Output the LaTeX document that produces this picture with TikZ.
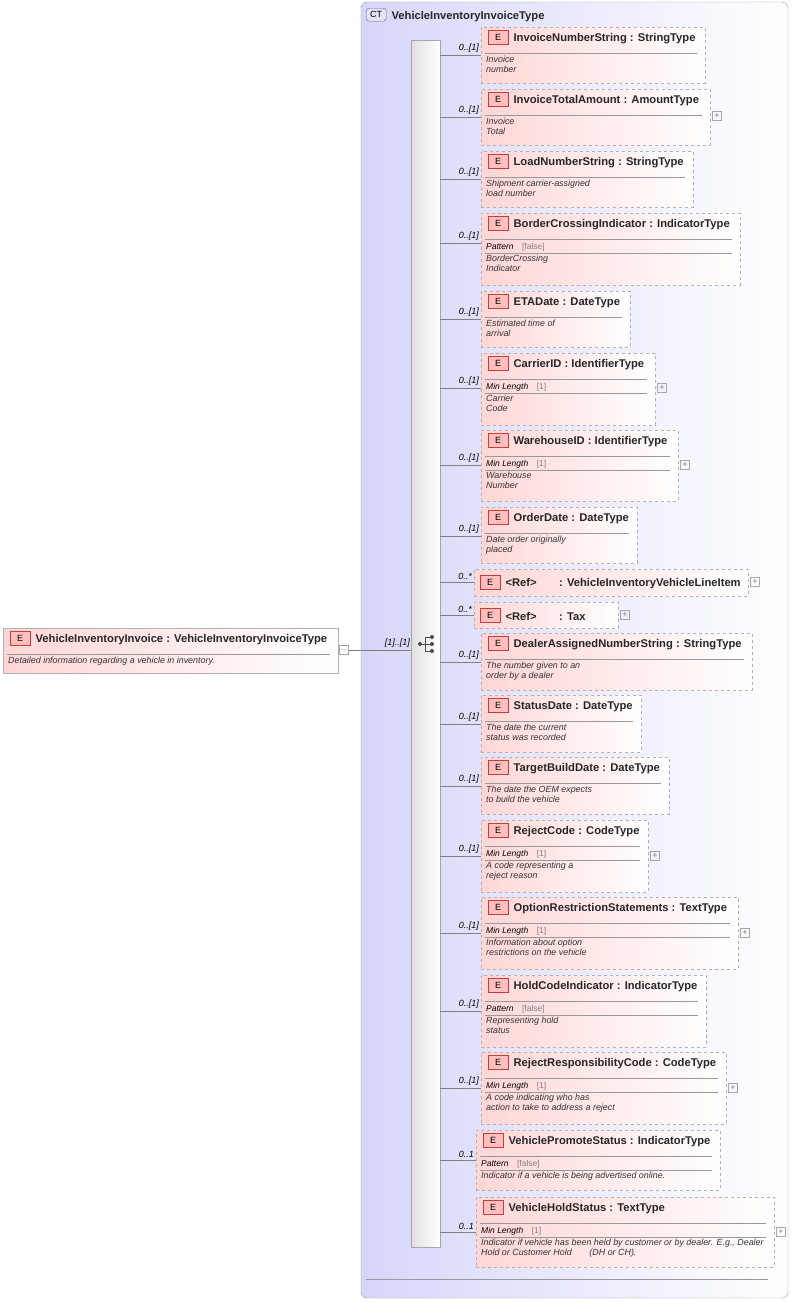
\documentclass[tikz,border=0pt]{standalone}
\usepackage{fontspec}
\setmainfont{Liberation Sans}
\usetikzlibrary{positioning}

\definecolor{ctblue}{RGB}{214,214,250}
\definecolor{elpink}{RGB}{255,214,214}
\definecolor{badgered}{RGB}{200,60,60}

% element box: id, x1, y1, x2, y2, title, facet row, documentation
\newcommand\elem[8]{%
  \node[elem, anchor=north west, minimum width={(#4-#2)*1pt}, minimum height={(#5-#3)*1pt}] (#1) at (#2,#3) {};
  \node[badge, anchor=north west] (#1b) at (#2+7,#3+3) {E};
  \node[eltitle, right=5pt of #1b] (#1t) {#6};
  \draw[sepline] (#2+4,#3+26) -- (#4-8,#3+26);
  \if\relax\detokenize{#7}\relax
    \node[doc, anchor=north west] (#1d) at (#2+4,#3+28) {#8};
  \else
    \node[facet, anchor=west] (#1f) at (#2+5,#3+34) {#7};
    \draw[sepline] (#2+4,#3+40) -- (#4-8,#3+40);
    \node[doc, anchor=north west] (#1d) at (#2+4,#3+41) {#8};
  \fi
}
% connector from the sequence bar: id, y, cardinality
\newcommand\conn[3]{%
  \coordinate (#1c) at (440,#2);
  \draw[wire] (#1c) -- (#1c -| #1.west) node[card, pos=1, anchor=south east] {#3};
}
% plus sign beside a box: id, y
\newcommand\plusbox[2]{%
  \node[pm, anchor=west] (#1p) at ([xshift=2pt]#1.east |- 0,#2) {+};
}

\begin{document}
\begin{tikzpicture}[x=1pt, y=-1pt,
        elem/.style={draw=black!30, dashed, left color=elpink, right color=white, inner sep=0pt},
        badge/.style={draw=badgered, fill=red!25, font=\fontsize{9}{10}\selectfont, minimum width=20pt, minimum height=14pt, inner sep=0pt},
        eltitle/.style={font=\fontsize{11.2}{12}\selectfont\bfseries, text=black!85, inner sep=0pt, yshift=-1.5pt},
        facet/.style={font=\fontsize{8.5}{10}\selectfont\itshape, inner sep=0pt},
        doc/.style={font=\fontsize{8.9}{10}\selectfont\itshape, align=left, inner sep=1pt, text=black!80},
        card/.style={font=\fontsize{9}{10}\selectfont\itshape, inner sep=2pt},
        sepline/.style={draw=black!40, thin},
        wire/.style={draw=black!50, thin},
        pm/.style={draw=black!35, font=\fontsize{9}{9}\selectfont, text=black!50, minimum size=9pt, inner sep=0pt}
        ]
            \useasboundingbox (0,0) rectangle (792,1302);
            % complex type
            \draw[black!40, rounded corners=6pt, left color=ctblue, right color=white] (361,2) rectangle (788,1298);
            \node[draw=black!60, fill=ctblue!70, rounded corners=3pt, font=\fontsize{9}{10}\selectfont, minimum width=20pt, minimum height=13pt, inner sep=0pt, anchor=north west] (ctb) at (366,8) {CT};
            \node[eltitle, right=5pt of ctb] (ctt) {VehicleInventoryInvoiceType};
            \draw[sepline] (366,1279) -- (768,1279);
            % sequence
            \node[draw=black!35, left color=black!12, right color=white, minimum width=29pt, minimum height=1207pt, inner sep=0pt, anchor=north west] (seq) at (411,40) {};
            \fill[black!70] (420,644) circle (2pt);
            \draw[black!70, thick] (420,644) -- (432,644) (425,637) -- (425,651) (425,637) -- (432,637) (425,651) -- (432,651);
            \foreach \yy in {637,644,651} \fill[black!70] (432,\yy) circle (2pt);

            % root element
            \elem{root}{3}{628}{338}{673}{VehicleInventoryInvoice : VehicleInventoryInvoiceType}{}{Detailed information regarding a vehicle in inventory.}
            \draw[black!30, solid] (root.north west) rectangle (root.south east);
            \node[pm, anchor=west] (rootp) at ([xshift=1pt]root.east |- 0,650) {$-$};
            \draw[wire] (rootp.east) -- (rootp.east -| seq.west) node[card, pos=0.78, anchor=south] {[1]..[1]};

            % children
            \elem{invnum}{481}{27}{705}{83}{InvoiceNumberString : StringType}{}{Invoice\\number}
            \conn{invnum}{55}{0..[1]}
            \elem{invtot}{481}{89}{710}{145}{InvoiceTotalAmount : AmountType}{}{Invoice\\Total}
            \conn{invtot}{117}{0..[1]} \plusbox{invtot}{116}
            \elem{loadnum}{481}{151}{693}{207}{LoadNumberString : StringType}{}{Shipment carrier-assigned\\load number}
            \conn{loadnum}{179}{0..[1]}
            \elem{border}{481}{213}{740}{285}{BorderCrossingIndicator : IndicatorType}{Pattern\quad{\upshape\color{black!50}[false]}}{BorderCrossing\\Indicator}
            \conn{border}{243}{0..[1]}
            \elem{eta}{481}{291}{630}{347}{ETADate : DateType}{}{Estimated time of\\arrival}
            \conn{eta}{319}{0..[1]}
            \elem{carrier}{481}{353}{655}{425}{CarrierID : IdentifierType}{Min Length\quad{\upshape\color{black!50}[1]}}{Carrier\\Code}
            \conn{carrier}{388}{0..[1]} \plusbox{carrier}{388}
            \elem{wareh}{481}{430}{678}{501}{WarehouseID : IdentifierType}{Min Length\quad{\upshape\color{black!50}[1]}}{Warehouse\\Number}
            \conn{wareh}{465}{0..[1]} \plusbox{wareh}{465}
            \elem{order}{481}{507}{637}{563}{OrderDate : DateType}{}{Date order originally\\placed}
            \conn{order}{536}{0..[1]}
            % references
            \node[elem, anchor=north west, minimum width=274pt, minimum height=27pt] (lineitem) at (474,569) {};
            \node[badge, anchor=north west] (lineitemb) at (480,575) {E};
            \node[eltitle, right=5pt of lineitemb] (lineitemt) {<Ref>\qquad : VehicleInventoryVehicleLineItem};
            \conn{lineitem}{582}{0..*} \plusbox{lineitem}{582}
            \node[elem, anchor=north west, minimum width=144pt, minimum height=26pt] (tax) at (474,602) {};
            \node[badge, anchor=north west] (taxb) at (480,608) {E};
            \node[eltitle, right=5pt of taxb] (taxt) {<Ref>\qquad : Tax};
            \conn{tax}{615}{0..*} \plusbox{tax}{615}
            \elem{dealer}{481}{633}{752}{690}{DealerAssignedNumberString : StringType}{}{The number given to an\\order by a dealer}
            \conn{dealer}{662}{0..[1]}
            \elem{status}{481}{695}{641}{752}{StatusDate : DateType}{}{The date the current\\status was recorded}
            \conn{status}{724}{0..[1]}
            \elem{target}{481}{757}{669}{814}{TargetBuildDate : DateType}{}{The date the OEM expects\\to build the vehicle}
            \conn{target}{786}{0..[1]}
            \elem{reject}{481}{820}{648}{892}{RejectCode : CodeType}{Min Length\quad{\upshape\color{black!50}[1]}}{A code representing a\\reject reason}
            \conn{reject}{856}{0..[1]} \plusbox{reject}{856}
            \elem{option}{481}{897}{738}{969}{OptionRestrictionStatements : TextType}{Min Length\quad{\upshape\color{black!50}[1]}}{Information about option\\restrictions on the vehicle}
            \conn{option}{933}{0..[1]} \plusbox{option}{933}
            \elem{hold}{481}{975}{706}{1047}{HoldCodeIndicator : IndicatorType}{Pattern\quad{\upshape\color{black!50}[false]}}{Representing hold\\status}
            \conn{hold}{1011}{0..[1]}
            \elem{rejresp}{481}{1052}{726}{1124}{RejectResponsibilityCode : CodeType}{Min Length\quad{\upshape\color{black!50}[1]}}{A code indicating who has\\action to take to address a reject}
            \conn{rejresp}{1088}{0..[1]} \plusbox{rejresp}{1088}
            \elem{promote}{476}{1130}{720}{1190}{VehiclePromoteStatus : IndicatorType}{Pattern\quad{\upshape\color{black!50}[false]}}{Indicator if a vehicle is being advertised online.}
            \conn{promote}{1160}{0..1}
            \elem{holdst}{476}{1197}{774}{1267}{VehicleHoldStatus : TextType}{Min Length\quad{\upshape\color{black!50}[1]}}{Indicator if vehicle has been held by customer or by dealer. E.g., Dealer\\Hold or Customer Hold\qquad(DH or CH).}
            \conn{holdst}{1232}{0..1} \plusbox{holdst}{1232}
        \end{tikzpicture}
\end{document}
